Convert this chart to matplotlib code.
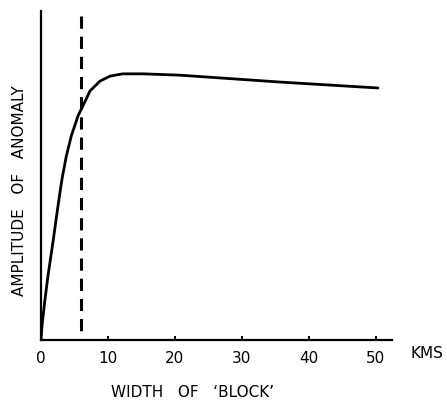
import matplotlib.pyplot as plt

# curve (width in km, amplitude in relative units)
width_km = [0, 0.15, 0.55, 1.04, 1.79, 2.28, 2.61, 3.13, 3.78, 4.52, 5.52,
            6.76, 7.31, 8.81, 10.3, 12.2, 15.2, 20.7, 35.7, 50.3]
amplitude = [0, 0.043, 0.116, 0.195, 0.298, 0.370, 0.418, 0.489, 0.559,
             0.620, 0.681, 0.733, 0.757, 0.787, 0.802, 0.809, 0.809, 0.805,
             0.784, 0.766]
block_width = 5.9
xticks = [0, 10, 20, 30, 40, 50]

fig = plt.figure(figsize=(4.47, 4.02), dpi=100)
ax = fig.add_axes([41 / 447, 61 / 402, 351 / 447, 329 / 402])

ax.plot(width_km, amplitude, color='black', lw=2.0, solid_capstyle='round',
        solid_joinstyle='round')
# drawn top-down so the pattern starts with a full dash at the top
ax.plot([block_width, block_width], [0.985, 0], color='black', lw=2.2,
        dashes=(4, 2.6))

ax.set_xlim(0, 52.4)
ax.set_ylim(0, 1)
for side in ['top', 'right']:
    ax.spines[side].set_visible(False)
for side in ['left', 'bottom']:
    ax.spines[side].set_linewidth(1.6)

ax.set_yticks([])
ax.set_xticks(xticks)
ax.set_xticklabels([str(t) for t in xticks], fontsize=11)
ax.tick_params(axis='x', direction='in', length=3, width=1.4, pad=7)
ax.xaxis.get_major_ticks()[0].tick1line.set_visible(False)

fig.text(410 / 447, 1 - 354 / 402, 'KMS', fontsize=11, va='center', ha='left')
fig.text(193 / 447, 1 - 393 / 402, 'WIDTH   OF   \u2018BLOCK\u2019', fontsize=11,
         va='center', ha='center')
fig.text(20 / 447, 1 - 191 / 402, 'AMPLITUDE   OF   ANOMALY', fontsize=11,
         va='center', ha='center', rotation=90)

fig.savefig('out.png', dpi=100)
